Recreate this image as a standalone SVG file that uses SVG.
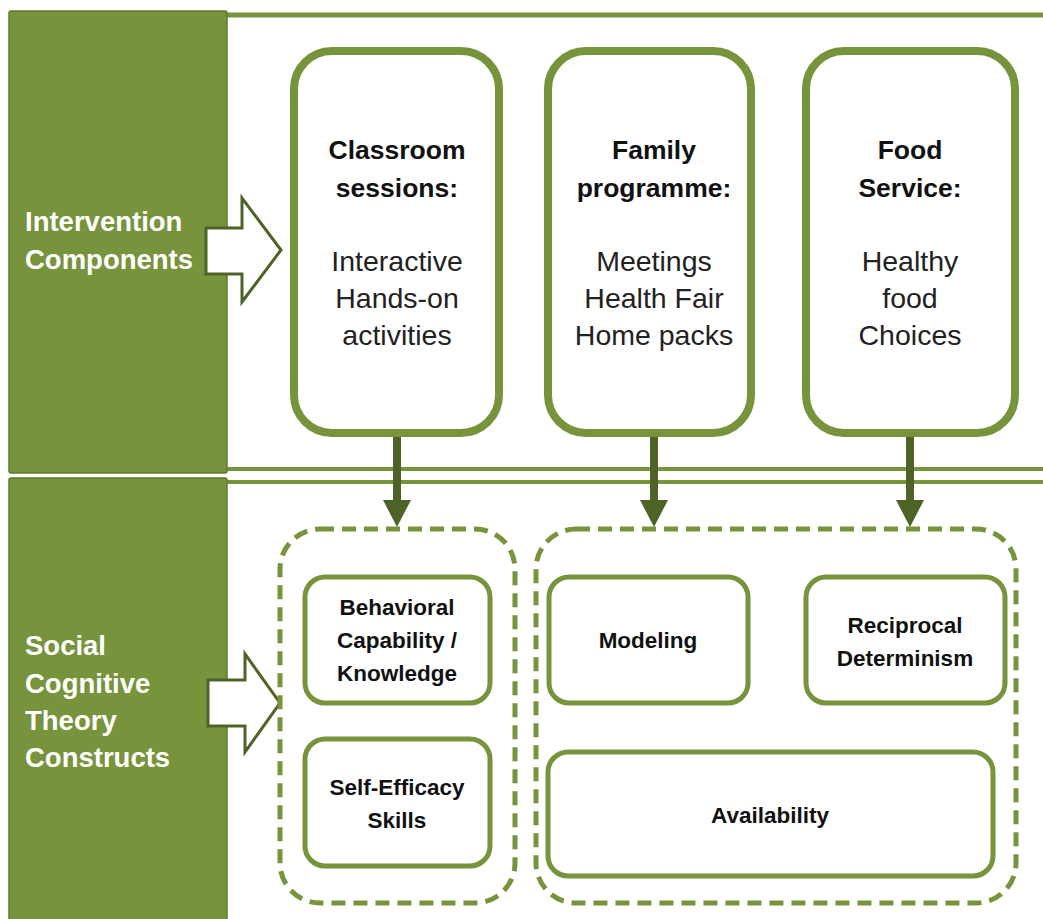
<svg xmlns="http://www.w3.org/2000/svg" width="1043" height="919" viewBox="0 0 1043 919">
<style>
.panel{fill:#77933C;stroke:#5f7a2c;stroke-width:1.5}
.rule{stroke:#77933C;stroke-width:5;fill:none}
.big{fill:#fff;stroke:#77933C;stroke-width:8}
.small{fill:#fff;stroke:#77933C;stroke-width:5}
.dash{fill:none;stroke:#77933C;stroke-width:5;stroke-dasharray:14 8}
.hollow{fill:#fff;stroke:#4F6228;stroke-width:3;stroke-linejoin:miter}
.side{font-family:"Liberation Sans",Arial,sans-serif;font-weight:bold;font-size:27.5px;fill:#fff}
.hd{font-family:"Liberation Sans",Arial,sans-serif;font-weight:bold;font-size:26.5px;fill:#111;text-anchor:middle}
.bd{font-family:"Liberation Sans",Arial,sans-serif;font-size:28.5px;fill:#222;text-anchor:middle}
.sm{font-family:"Liberation Sans",Arial,sans-serif;font-weight:bold;font-size:22.5px;fill:#111;text-anchor:middle}
.conn{stroke:#4F6228;stroke-width:8;fill:none}
.head{fill:#4F6228}
</style>
<rect width="1043" height="919" fill="#fff"/>
<g id="frame">
<line class="rule" x1="226" y1="15" x2="1043" y2="15"/>
<line class="rule" x1="226" y1="469" x2="1043" y2="469" style="stroke-width:4"/>
<line class="rule" x1="226" y1="482" x2="1043" y2="482" style="stroke-width:4"/>
</g>
<g id="panel-intervention">
<rect class="panel" x="9" y="11" width="218" height="462" rx="2"/>
<text class="side" x="25" y="231">Intervention</text>
<text class="side" x="25" y="269">Components</text>
<path class="hollow" d="M206,228 H242 V198 L281,250 L242,302 V274 H206 Z"/>
</g>
<g id="panel-sct">
<rect class="panel" x="9" y="478" width="218" height="445" rx="2"/>
<text class="side" x="25" y="655">Social</text>
<text class="side" x="25" y="693">Cognitive</text>
<text class="side" x="25" y="730">Theory</text>
<text class="side" x="25" y="767">Constructs</text>
<path class="hollow" d="M208,680 H245 V654 L280,703 L245,752 V726 H208 Z"/>
</g>
<g id="classroom">
<rect class="big" x="294" y="51" width="205" height="382" rx="38"/>
<text class="hd" x="397" y="159">Classroom</text>
<text class="hd" x="397" y="197">sessions:</text>
<text class="bd" x="397" y="271">Interactive</text>
<text class="bd" x="397" y="308">Hands-on</text>
<text class="bd" x="397" y="345">activities</text>
</g>
<g id="family">
<rect class="big" x="548" y="51" width="203" height="382" rx="38"/>
<text class="hd" x="654" y="159">Family</text>
<text class="hd" x="654" y="197">programme:</text>
<text class="bd" x="654" y="271">Meetings</text>
<text class="bd" x="654" y="308">Health Fair</text>
<text class="bd" x="654" y="345">Home packs</text>
</g>
<g id="food">
<rect class="big" x="806" y="51" width="209" height="382" rx="38"/>
<text class="hd" x="910" y="159">Food</text>
<text class="hd" x="910" y="197">Service:</text>
<text class="bd" x="910" y="271">Healthy</text>
<text class="bd" x="910" y="308">food</text>
<text class="bd" x="910" y="345">Choices</text>
</g>
<g id="group-left">
<rect class="dash" x="280" y="529" width="235" height="374" rx="40"/>
</g>
<g id="group-right">
<rect class="dash" x="536" y="529" width="480" height="374" rx="40"/>
</g>
<g id="behavioral">
<rect class="small" x="305" y="577" width="185" height="126" rx="20"/>
<text class="sm" x="397" y="615">Behavioral</text>
<text class="sm" x="397" y="648">Capability /</text>
<text class="sm" x="397" y="681">Knowledge</text>
</g>
<g id="selfefficacy">
<rect class="small" x="305" y="739" width="185" height="127" rx="20"/>
<text class="sm" x="397" y="795">Self-Efficacy</text>
<text class="sm" x="397" y="828">Skills</text>
</g>
<g id="modeling">
<rect class="small" x="549" y="577" width="199" height="126" rx="20"/>
<text class="sm" x="648" y="648">Modeling</text>
</g>
<g id="reciprocal">
<rect class="small" x="806" y="577" width="199" height="126" rx="20"/>
<text class="sm" x="905" y="633">Reciprocal</text>
<text class="sm" x="905" y="666">Determinism</text>
</g>
<g id="availability">
<rect class="small" x="548" y="752" width="445" height="124" rx="20"/>
<text class="sm" x="770" y="823">Availability</text>
</g>
<g id="connectors">
<line class="conn" x1="397" y1="437" x2="397" y2="502"/>
<path class="head" d="M383,500 H411 L397,527 Z"/>
<line class="conn" x1="654" y1="437" x2="654" y2="502"/>
<path class="head" d="M640,500 H668 L654,527 Z"/>
<line class="conn" x1="910" y1="437" x2="910" y2="502"/>
<path class="head" d="M896,500 H924 L910,527 Z"/>
</g>
</svg>
